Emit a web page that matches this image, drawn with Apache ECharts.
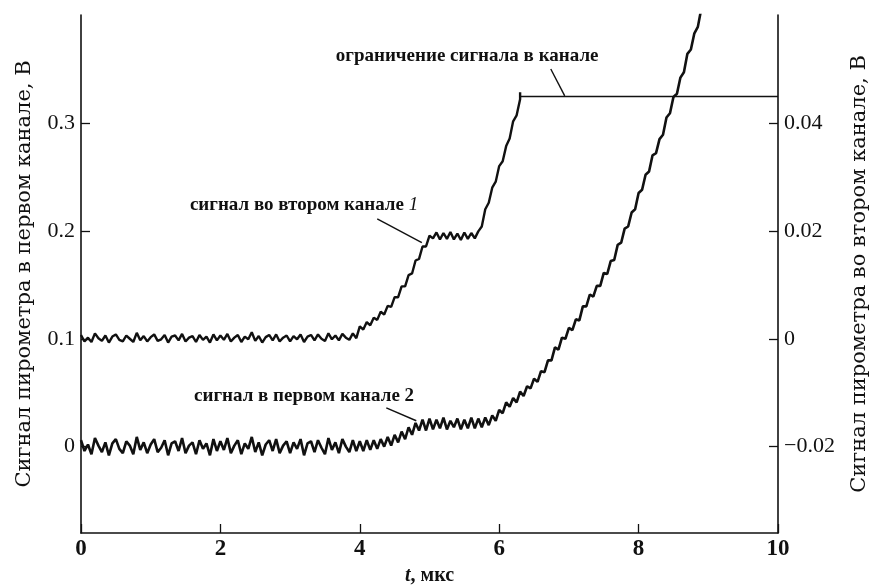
<!DOCTYPE html>
<html>
<head>
<meta charset="utf-8">
<script src="https://cdn.jsdelivr.net/npm/echarts@6/dist/echarts.min.js"></script>
<style>html,body{margin:0;background:#fff}#main{width:872px;height:586px}</style>
</head>
<body>
<div id="main"></div>
<script>
// sample spacing along t, мкс
var step = 0.05;

// channel 1 signal (left axis, V), t = 0 ... 8.9
var chan1 = [
  0.006,-0.004,0.002,-0.007,0.008,0.001,-0.005,0.004,-0.008,0.003,0.007,-0.002,-0.006,0.005,0.001,-0.007,0.009,-0.003,0.004,-0.006,
  0.002,0.007,-0.005,-0.001,0.006,-0.008,0.003,0.005,-0.004,0.008,-0.006,0.001,0.004,-0.007,0.006,-0.002,0.003,-0.008,0.007,-0.004,
  0.005,-0.003,0.008,-0.006,0.001,0.006,-0.007,0.003,-0.002,0.009,-0.005,0.004,-0.008,0.002,0.006,-0.004,0.007,-0.006,0.001,0.005,
  -0.006,0.004,-0.002,0.007,-0.008,0.003,0.005,-0.005,0.006,-0.001,-0.007,0.008,-0.003,0.004,-0.006,0.007,0.000,-0.005,0.006,-0.004,
  0.005,-0.004,0.006,-0.003,0.006,-0.002,0.007,0.000,0.009,0.001,0.011,0.004,0.014,0.007,0.018,0.011,0.022,0.015,0.025,0.015,
  0.026,0.016,0.025,0.017,0.027,0.016,0.024,0.018,0.026,0.016,0.025,0.017,0.027,0.017,0.026,0.018,0.027,0.020,0.029,0.024,
  0.034,0.031,0.041,0.037,0.045,0.041,0.051,0.047,0.056,0.054,0.063,0.060,0.070,0.069,0.080,0.080,0.092,0.090,0.101,0.100,
  0.110,0.108,0.118,0.117,0.130,0.130,0.141,0.139,0.149,0.149,0.161,0.160,0.172,0.173,0.187,0.189,0.202,0.204,0.217,0.220,
  0.235,0.238,0.252,0.255,0.270,0.272,0.285,0.289,0.305,0.309,0.324,0.327,0.342,0.347,0.364,0.368,0.383,0.389,0.406
];

// channel 2 signal (right axis, V), t = 0 ... 6.3
var chan2 = [
  0.0007,-0.0005,0.0002,-0.0006,0.0010,0.0001,-0.0004,0.0006,-0.0007,0.0004,0.0008,-0.0002,-0.0005,0.0006,0.0000,-0.0006,0.0011,-0.0003,0.0005,-0.0005,
  0.0003,0.0008,-0.0004,-0.0001,0.0007,-0.0007,0.0004,0.0006,-0.0003,0.0009,-0.0005,0.0002,0.0005,-0.0006,0.0007,-0.0002,0.0004,-0.0007,0.0008,-0.0003,
  0.0006,-0.0002,0.0009,-0.0005,0.0002,0.0007,-0.0006,0.0004,-0.0001,0.0012,-0.0004,0.0005,-0.0007,0.0003,0.0007,-0.0003,0.0008,-0.0005,0.0002,0.0006,
  -0.0005,0.0005,-0.0001,0.0008,-0.0006,0.0004,0.0007,-0.0003,0.0008,0.0000,-0.0004,0.0010,-0.0001,0.0006,-0.0003,0.0009,0.0002,-0.0002,0.0010,0.0001,
  0.0023,0.0017,0.0031,0.0025,0.0039,0.0035,0.0050,0.0045,0.0061,0.0059,0.0077,0.0077,0.0097,0.0097,0.0118,0.0121,0.0145,0.0148,0.0171,0.0171,
  0.0191,0.0186,0.0197,0.0184,0.0196,0.0185,0.0198,0.0184,0.0195,0.0183,0.0197,0.0185,0.0196,0.0186,0.0199,0.0208,0.0240,0.0252,0.0280,0.0291,
  0.0320,0.0329,0.0357,0.0371,0.0403,0.0414,0.0444
];

// channel 2 clipping level (right axis)
var clipT = [6.3, 6.3, 10];
var clipV = [0.0457, 0.0449, 0.0449];

var xTicks = [0, 2, 4, 6, 8, 10];
var leftTicks = [0, 0.1, 0.2, 0.3];
var rightTicks = [-0.02, 0, 0.02, 0.04];

var serif = '"Liberation Serif", "DejaVu Serif", serif';
var wideSerif = '"DejaVu Serif", "Liberation Serif", serif';
var ink = '#111';

function toPairs(vals) {
  return vals.map(function (v, i) { return [+(i * step).toFixed(2), v]; });
}

var chan2Data = toPairs(chan2).concat(clipT.slice(0, 2).map(function (t, i) { return [t, clipV[i]]; }));
var clipData = clipT.slice(1).map(function (t, i) { return [t, clipV[i + 1]]; });

function yAxisCfg(name, min, max, ticks, pos, gap, fmt) {
  return {
    type: 'value', position: pos, min: min, max: max,
    name: name, nameLocation: 'middle', nameRotate: 90, nameGap: gap,
    nameTextStyle: {fontFamily: wideSerif, fontSize: 21, color: ink},
    axisLine: {show: true, onZero: false, lineStyle: {color: ink, width: 1.6}},
    axisTick: {show: true, inside: true, length: 9, customValues: ticks, lineStyle: {color: ink, width: 1.3}},
    axisLabel: {customValues: ticks, formatter: fmt, fontFamily: serif, fontSize: 22, color: ink, margin: 6},
    splitLine: {show: false}
  };
}

var chart = echarts.init(document.getElementById('main'));

var option = {
  animation: false,
  backgroundColor: '#fff',
  grid: {left: 81, right: 94, top: 15, bottom: 53, outerBoundsMode: 'none', containLabel: false},
  xAxis: {
    type: 'value', min: 0, max: 10, interval: 2,
    name: '{i|t}, мкс', nameLocation: 'middle', nameGap: 33,
    nameTextStyle: {
      fontFamily: serif, fontSize: 20, fontWeight: 'bold', color: ink,
      rich: {i: {fontFamily: serif, fontSize: 20, fontWeight: 'bold', fontStyle: 'italic', color: ink}}
    },
    axisLine: {onZero: false, lineStyle: {color: ink, width: 1.6}},
    axisTick: {inside: true, length: 9, lineStyle: {color: ink, width: 1.3}},
    axisLabel: {
      fontFamily: serif, fontSize: 23, fontWeight: 'bold', color: ink, margin: 5,
      formatter: function (v) { return xTicks.indexOf(v) >= 0 ? String(v) : ''; }
    },
    splitLine: {show: false}
  },
  yAxis: [
    yAxisCfg('Сигнал пирометра в первом канале, В', -0.08, 0.4, leftTicks, 'left', 46,
      function (v) { return String(v); }),
    yAxisCfg('Сигнал пирометра во втором канале, В', -0.036, 0.06, rightTicks, 'right', 71,
      function (v) { return (v < 0 ? '\u2212' : '') + String(Math.abs(v)); })
  ],
  series: [
    {
      name: 'сигнал в первом канале 2', type: 'line', yAxisIndex: 0,
      data: toPairs(chan1), showSymbol: false, clip: true,
      lineStyle: {color: ink, width: 2.6}
    },
    {
      name: 'сигнал во втором канале 1', type: 'line', yAxisIndex: 1,
      data: chan2Data, showSymbol: false, clip: true,
      lineStyle: {color: ink, width: 2.4}
    },
    {
      name: 'ограничение сигнала', type: 'line', yAxisIndex: 1,
      data: clipData, showSymbol: false, silent: true,
      lineStyle: {color: ink, width: 1.5}
    }
  ]
};
chart.setOption(option);

// annotations, placed in left-axis data coordinates
var notes = [
  {text: 'ограничение сигнала в канале', at: [5.54, 0.362], from: [6.74, 0.350], to: [6.94, 0.325]},
  {text: 'сигнал во втором канале {i|1}', at: [3.2, 0.224], from: [4.25, 0.211], to: [4.89, 0.189]},
  {text: 'сигнал в первом канале 2', at: [3.2, 0.0465], from: [4.38, 0.036], to: [4.81, 0.024]}
];

function px(p) { return chart.convertToPixel({xAxisIndex: 0, yAxisIndex: 0}, p); }

var graphics = [];
notes.forEach(function (n) {
  var c = px(n.at), a = px(n.from), b = px(n.to);
  graphics.push({
    type: 'text', x: c[0], y: c[1],
    style: {
      text: n.text, align: 'center', verticalAlign: 'middle',
      fontFamily: serif, fontSize: 19, fontWeight: 'bold', fill: ink,
      rich: {i: {fontFamily: serif, fontSize: 19, fontStyle: 'italic', fontWeight: 'normal', fill: ink}}
    }
  });
  graphics.push({
    type: 'line',
    shape: {x1: a[0], y1: a[1], x2: b[0], y2: b[1]},
    style: {stroke: ink, lineWidth: 1.4}
  });
});
chart.setOption({graphic: graphics});
</script>
</body>
</html>
